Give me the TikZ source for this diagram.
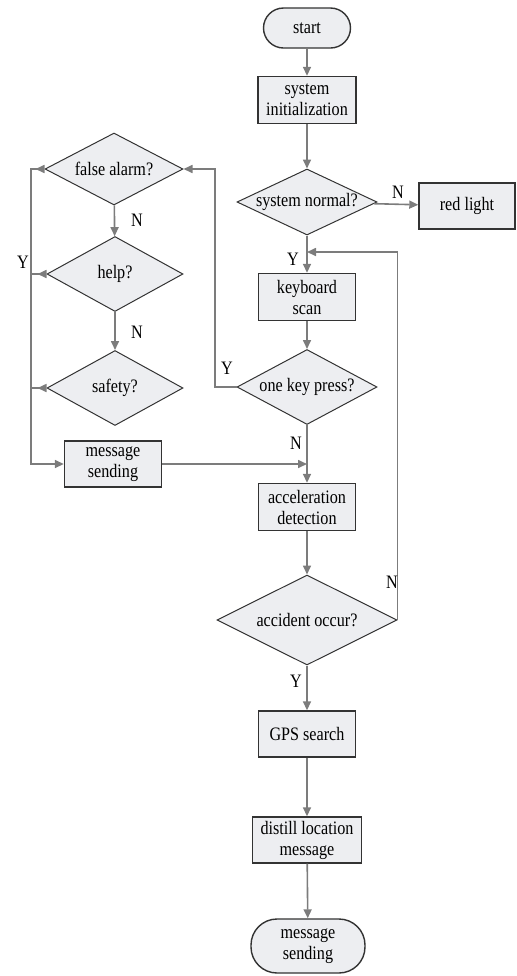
\documentclass[tikz,border=0pt]{standalone}
\usepackage{fontspec}
\setmainfont{Liberation Serif}[FakeStretch=0.85]
\usepackage{tikz}
\usetikzlibrary{shapes.geometric,arrows.meta}
\definecolor{boxfill}{HTML}{EDEEF1}
\definecolor{flowgray}{HTML}{7C7C7C}
\tikzset{>={Triangle[length=4.5pt,width=4pt]},
  every node/.style={font=\fontsize{9.5}{10.5}\selectfont},
  proc/.style={draw=black!80, line width=0.7pt, fill=boxfill, align=center,
    inner sep=0pt, minimum width=48.5pt, minimum height=23.5pt},
  term/.style={proc, rounded corners=10pt},
  decide/.style={diamond, draw=black!80, line width=0.5pt, fill=boxfill,
    inner sep=0pt, shape aspect=2, minimum width=70pt, minimum height=37pt},
  flow/.style={draw=flowgray, line width=0.8pt},
  lbl/.style={inner sep=0pt}}

\begin{document}
\begin{tikzpicture}[x=0.5pt,y=-0.5pt]
    \useasboundingbox (0,0) rectangle (516,976);

    % main column
    \node[term, minimum width=43.5pt, minimum height=20pt] at (307,28) (start) {start};
    \node[proc, minimum width=49pt] at (307,100) (init) {system\\initialization};
    \node[decide, shape aspect=2.15, minimum height=33pt] at (307,202) (normal) {system normal?};
    \node[proc, minimum width=48pt, minimum height=23pt] at (467,206) (red) {red light};
    \node[proc] at (307,297) (kb) {keyboard\\scan};
    \node[decide, shape aspect=1.9, minimum height=37.5pt] at (307,387) (onekey) {one key press?};
    \node[proc] at (307,507) (accel) {acceleration\\detection};
    \node[decide, minimum width=90pt, minimum height=45pt] at (307,620) (acc) {accident occur?};
    \node[proc, minimum height=23pt] at (307,734) (gps) {GPS search};
    \node[proc, minimum width=54.5pt, minimum height=23pt] at (307,840) (distill) {distill location\\message};
    \node[term, minimum width=57pt, minimum height=27pt, rounded corners=13pt] at (308,946) (finish) {message\\sending};

    % left column
    \node[decide, minimum width=69pt, minimum height=36pt] at (114,169) (falsealarm) {false alarm?};
    \node[decide, minimum width=68pt, minimum height=37.5pt] at (115,274) (help) {help?};
    \node[decide, minimum width=68pt, minimum height=37.5pt] at (115,388) (safety) {safety?};
    \node[proc, minimum height=23pt] at (113,464) (msg) {message\\sending};

    \coordinate (ltop) at (31,169);
    \coordinate (yturn) at (215,387);
    \coordinate (loop) at (acc.east |- 0,252);

    \draw[flow,->] (start) -- (init);
    \draw[flow,->] (init) -- (normal);
    \draw[flow,->] (normal) -- (red);
    \draw[flow,->] (normal) -- (kb);
    \draw[flow,->] (kb) -- (onekey);
    \draw[flow,->] (onekey) -- (accel);
    \draw[flow,->] (accel) -- (acc);
    \draw[flow,->] (acc) -- (gps);
    \draw[flow,->] (gps) -- (distill);
    \draw[flow,->] (distill) -- (finish);
    \draw[flow,->] (acc.east) -- (loop) -- (loop -| kb);
    \draw[flow,->] (onekey.west) -- (yturn) |- (falsealarm.east);
    \draw[flow,->] (falsealarm) -- (help);
    \draw[flow,->] (help) -- (safety);
    \draw[flow,{Triangle[length=4.5pt,width=4pt,reversed]}->] (falsealarm.west) -- (ltop) |- (msg.west);
    \draw[flow,{Triangle[length=4.5pt,width=4pt,reversed]}-] (help.west) -- (help.west -| ltop);
    \draw[flow,{Triangle[length=4.5pt,width=4pt,reversed]}-] (safety.west) -- (safety.west -| ltop);
    \draw[flow,->] (msg.east) -- (msg.east -| kb);

    % branch labels
    \node[lbl] at (398,192) (nnormal) {N};
    \node[lbl] at (293,259) (ynormal) {Y};
    \node[lbl] at (227,368) (ykey) {Y};
    \node[lbl] at (296,443) (nkey) {N};
    \node[lbl] at (392,582) (nacc) {N};
    \node[lbl] at (296,681) (yacc) {Y};
    \node[lbl] at (137,220) (nfalse) {N};
    \node[lbl] at (137,332) (nhelp) {N};
    \node[lbl] at (23,262) (yleft) {Y};
\end{tikzpicture}
\end{document}
